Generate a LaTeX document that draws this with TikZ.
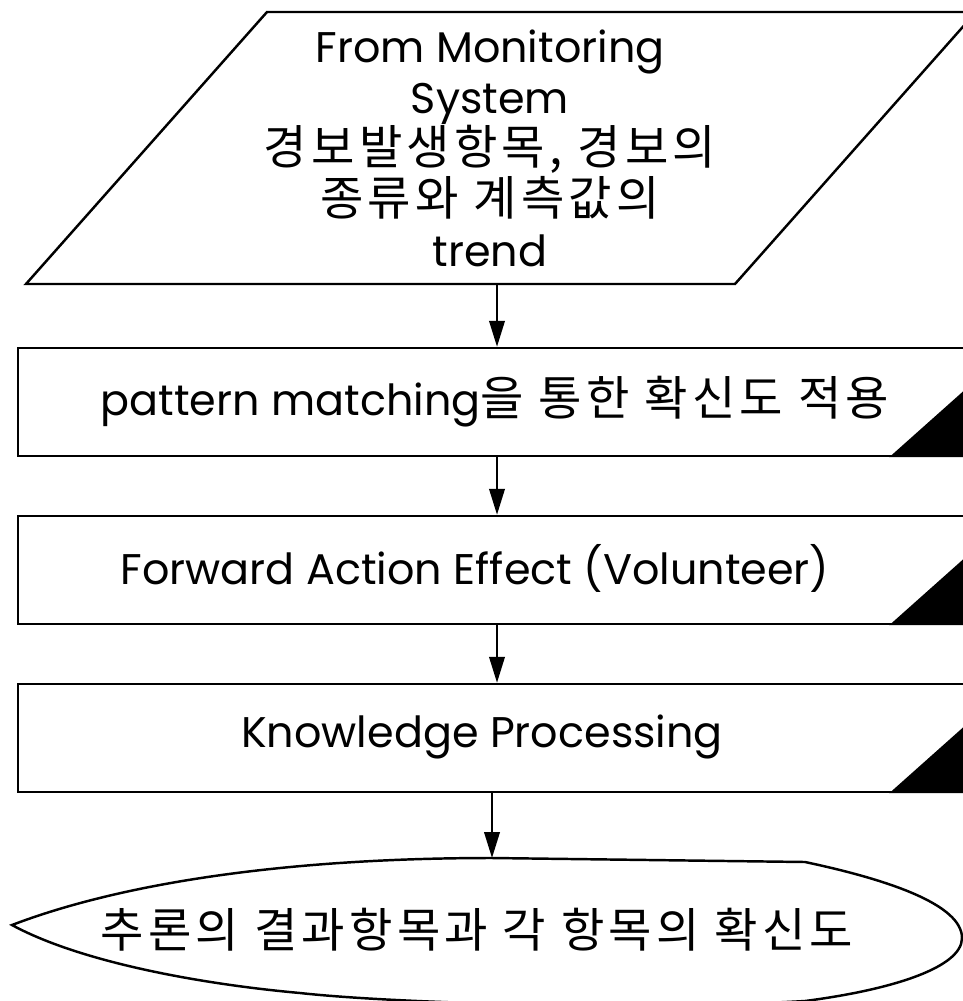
\documentclass[tikz,border=0pt]{standalone}
\usepackage{fontspec}
\setmainfont{Poppins}
\newfontfamily\kr[Scale=1.1,LetterSpace=9]{Noto Sans CJK KR}
\usetikzlibrary{arrows.meta,calc}

\begin{document}
\begin{tikzpicture}[x=0.1mm,y=-0.1mm,line width=0.7pt,
    procbox/.style={draw,rectangle,minimum width=962mm/10,minimum height=108mm/10,inner sep=0pt},
    lbl/.style={align=center,inner sep=0pt,font=\fontsize{12.2}{14.5}\selectfont},
    arr/.style={-{Triangle[length=7.4pt,width=4.4pt]}}]
			\useasboundingbox (0,0) rectangle (962,1001);
			% input parallelogram
			\coordinate (a) at (26,284);
			\coordinate (b) at (267,12);
			\coordinate (c) at (976,12);
			\coordinate (d) at (735,284);
			\draw (a) -- (b) -- (c) -- (d) -- cycle;
			\node[lbl] (in) at (490,148) {From Monitoring\\ System\\ {\kr 경보발생항목, 경보의}\\ {\kr 종류와 계측값의}\\ trend};
			\coordinate (p) at (497,284);
			% process boxes
			\node[procbox] (b1) at (499,402) {};
			\node[procbox] (b2) at (499,570) {};
			\node[procbox] (b3) at (499,738) {};
			\node[lbl] (t1) at (495,402) {pattern matching{\kr 을 통한 확신도 적용}};
			\node[lbl] (t2) at (475,568) {Forward Action Effect (Volunteer)};
			\node[lbl] (t3) at (482,737) {Knowledge Processing};
			\foreach \n in {b1,b2,b3}
				\fill ($(\n.south east)+(-92,0)$) -- ($(\n.south east)+(0,-82)$) -- (\n.south east) -- cycle;
			% result
			\coordinate (e) at (492,858);
			\coordinate (f) at (12,925);
			\draw (f) .. controls (130,880) and (300,858) .. (e) -- (805,862)
				.. controls (890,880) and (962,905) .. (962,938)
				.. controls (962,968) and (890,990) .. (805,1001)
				.. controls (650,1010) and (400,1004) .. (300,993)
				.. controls (200,984) and (80,962) .. (f) -- cycle;
			\node[lbl] (out) at (477,930) {\kr 추론의 결과항목과 각 항목의 확신도};
			% arrows
			\draw[arr] (p) -- (p |- b1.north);
			\draw[arr] (p |- b1.south) -- (p |- b2.north);
			\draw[arr] (p |- b2.south) -- (p |- b3.north);
			\draw[arr] (e |- b3.south) -- (e);
		\end{tikzpicture}
\end{document}
